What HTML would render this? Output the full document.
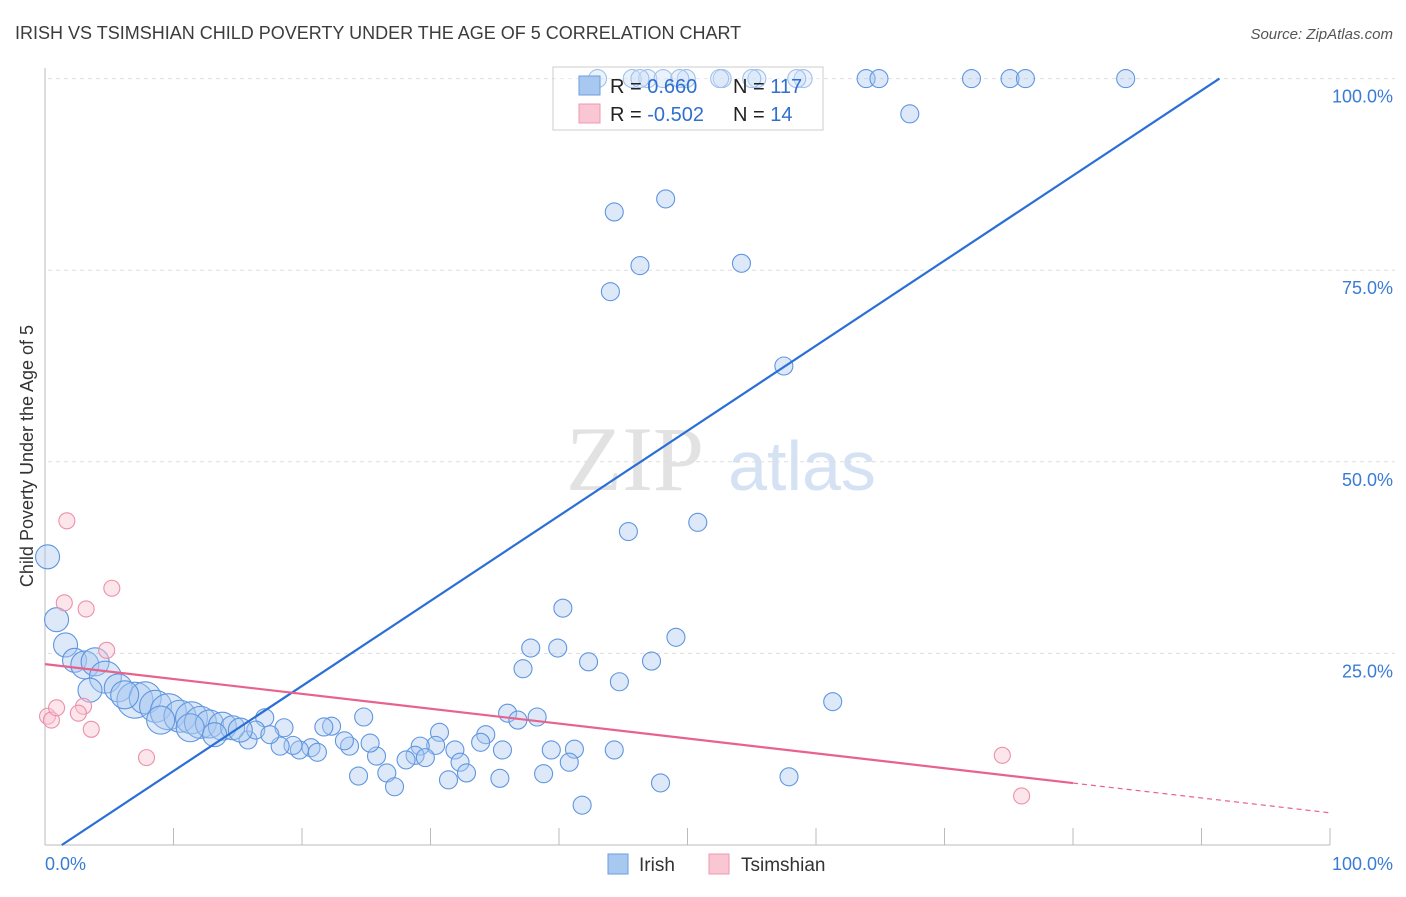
<!DOCTYPE html>
<html><head><meta charset="utf-8"><style>
body{margin:0;background:#fff;font-family:"Liberation Sans",sans-serif}
</style></head><body>
<svg id="chart" width="1406" height="892" xmlns="http://www.w3.org/2000/svg" font-family="Liberation Sans, sans-serif">
<text x="15" y="39" font-size="18" fill="#3c3c3c">IRISH VS TSIMSHIAN CHILD POVERTY UNDER THE AGE OF 5 CORRELATION CHART</text>
<text x="1393" y="39" font-size="15" fill="#555" text-anchor="end" font-style="italic">Source: ZipAtlas.com</text>
<g>
<text x="635" y="490" font-size="92" font-family="Liberation Serif, serif" fill="#e2e2e2" text-anchor="middle">ZIP</text>
<text x="802" y="490" font-size="70" fill="#d4e2f4" text-anchor="middle">atlas</text>
</g>
<g id="grid"></g>
<g id="axes"></g>
<g id="pts"></g>
<g id="lines"></g>
<text transform="translate(33,456) rotate(-90)" font-size="18" fill="#333" text-anchor="middle">Child Poverty Under the Age of 5</text>
<g>
<rect x="553" y="67" width="270" height="63" fill="#fff" fill-opacity="0.4" stroke="#ccc"/>
<rect x="579" y="76" width="21" height="19" fill="#a9c8f0" stroke="#6a9ee0"/>
<rect x="579" y="104" width="21" height="19" fill="#fbc6d4" stroke="#ee9ab0"/>
<text x="610" y="93" font-size="20" fill="#222">R = <tspan fill="#2f6fd0"> 0.660</tspan></text>
<text x="733" y="93" font-size="20" fill="#222">N = <tspan fill="#2f6fd0">117</tspan></text>
<text x="610" y="121" font-size="20" fill="#222">R = <tspan fill="#2f6fd0">-0.502</tspan></text>
<text x="733" y="121" font-size="20" fill="#222">N = <tspan fill="#2f6fd0"> 14</tspan></text>
</g>
<g><rect x="608" y="854" width="20" height="20" fill="#a9c8f0" stroke="#6a9ee0"/><text x="639" y="871" font-size="19" fill="#333">Irish</text></g>
<g><rect x="709" y="854" width="20" height="20" fill="#fbc6d4" stroke="#ee9ab0"/><text x="741" y="871" font-size="19" fill="#333">Tsimshian</text></g>
</svg>
<script>
const irishX=[43,45.7,46.9,48.1,49.9,52.7,55.4,59,63.9,64.9,72.1,75.1,76.3,84.1,46.3,49.4,52.5,55,58.5,67.3,44.3,48.3,46.3,54.2,44,57.5,45.4,50.8,40.3,37.8,39.9,49.1,42.3,47.2,37.2,44.7,61.3,36,38.3,36.8,30.7,34.3,33.9,31.9,35.6,39.4,41.2,40.8,44.3,32.3,30.4,29.2,28.8,28.1,29.6,26.6,24.4,27.2,31.4,32.8,35.4,38.8,47.9,57.9,41.8,24.8,22.3,21.7,23.7,25.8,25.3,23.3,20.7,19.8,21.2,19.3,18.3,17.1,18.6,15.8,16.4,17.5,0.2,0.9,1.6,2.3,3.1,3.9,4.7,5.7,7,7.8,8.6,9.6,10.5,11.4,12.1,12.8,13.8,14.6,15.2,3.5,6.2,9,11.3,13.2];
const irishY=[100,100,100,100,100,100,100,100,100,100,100,100,100,100,100,100,100,100,100,95.4,82.6,84.3,75.6,75.9,72.2,62.5,40.9,42.1,30.9,25.7,25.7,27.1,23.9,24,23,21.3,18.7,17.2,16.7,16.3,14.7,14.4,13.4,12.4,12.4,12.4,12.5,10.8,12.4,10.8,13,12.9,11.7,11.1,11.4,9.4,9,7.6,8.5,9.4,8.7,9.3,8.1,8.9,5.2,16.7,15.5,15.4,12.9,11.6,13.3,13.6,12.7,12.4,12.1,13,12.9,16.6,15.3,13.7,15,14.4,37.6,29.4,26.1,24.1,23.5,23.9,21.9,20.5,18.9,19.2,18.1,17.4,16.8,16.6,16,15.8,15.5,15.3,15,20.2,19.6,16.3,15.3,14.4];
const irishSize=[9,9,9,9,9,9,9,9,9,9,9,9,9,9,9,9,9,9,9,9,9,9,9,9,9,9,9,9,9,9,9,9,9,9,9,9,9,9,9,9,9,9,9,9,9,9,9,9,9,9,9,9,9,9,9,9,9,9,9,9,9,9,9,9,9,9,9,9,9,9,9,9,9,9,9,9,9,9,9,9,9,9,12,12,12,12,14,14,16,14,18,16,16,18,16,16,16,14,14,12,12,12,14,14,14,12];
const tsimX=[1.7,5.2,1.5,3.2,4.8,0.2,0.5,0.9,3,2.6,3.6,7.9,74.5,76];
const tsimY=[42.3,33.5,31.6,30.8,25.4,16.8,16.3,17.9,18.1,17.2,15.1,11.4,11.7,6.4];
const yTicks=[25,50,75,100];
const yTickLabels=["25.0%","50.0%","75.0%","100.0%"];
const xTicks=[0,10,20,30,40,50,60,70,80,90,100];
const blueFit=[1.11,-1.45]; // slope, intercept
const pinkFit=[-0.194,23.6];
const NS="http://www.w3.org/2000/svg";
const X=v=>45+v*12.85, Y=v=>845-v*7.664;
function mk(t,a,p){const e=document.createElementNS(NS,t);for(const k in a)e.setAttribute(k,a[k]);p.appendChild(e);return e;}
const grid=document.getElementById('grid'),axes=document.getElementById('axes'),pts=document.getElementById('pts'),lines=document.getElementById('lines');
yTicks.forEach((v,i)=>{
 const l=mk('line',{x1:48,x2:1395,y1:Y(v),y2:Y(v),stroke:'#ddd','stroke-dasharray':'4,4'},grid);
 
 
 const t=mk('text',{x:1393,y:Y(v)+24,'font-size':18,fill:'#3a7bd5','text-anchor':'end'},grid);
 t.textContent=yTickLabels[i];
 
 
});
let ax=mk('line',{x1:45,x2:45,y1:68,y2:845,stroke:'#bbb'},axes);


ax=mk('line',{x1:45,x2:1330,y1:845,y2:845,stroke:'#bbb'},axes);


xTicks.forEach(v=>{const t=mk('line',{x1:X(v),x2:X(v),y1:828,y2:845,stroke:'#bbb'},axes);
 
 });
let xl=mk('text',{x:45,y:870,'font-size':18,fill:'#3a7bd5'},axes);xl.textContent=xTicks[0].toFixed(1)+'%';


xl=mk('text',{x:1393,y:870,'font-size':18,fill:'#3a7bd5','text-anchor':'end'},axes);xl.textContent=xTicks[xTicks.length-1].toFixed(1)+'%';


irishX.forEach((v,i)=>{const c=mk('circle',{cx:X(v),cy:Y(irishY[i]),r:irishSize[i],fill:'#a9c8f0','fill-opacity':0.4,stroke:'#5f96e0','stroke-width':1.1},pts);
 
 });
tsimX.forEach((v,i)=>{const c=mk('circle',{cx:X(v),cy:Y(tsimY[i]),r:8,fill:'#fbc6d4','fill-opacity':0.45,stroke:'#ec90a8','stroke-width':1.1},pts);
 
 });
const bx0=(0-blueFit[1])/blueFit[0], bx1=(100-blueFit[1])/blueFit[0];
let ln=mk('line',{x1:X(bx0),y1:Y(0),x2:X(bx1),y2:Y(100),stroke:'#2a6fd6','stroke-width':2.2},lines);


ln=mk('line',{x1:X(0),y1:Y(pinkFit[1]),x2:X(80),y2:Y(pinkFit[1]+pinkFit[0]*80),stroke:'#e8628e','stroke-width':2.2},lines);


ln=mk('line',{x1:X(80),y1:Y(pinkFit[1]+pinkFit[0]*80),x2:X(100),y2:Y(pinkFit[1]+pinkFit[0]*100),stroke:'#e8628e','stroke-width':1.2,'stroke-dasharray':'5,4'},lines);


</script>
</body></html>
